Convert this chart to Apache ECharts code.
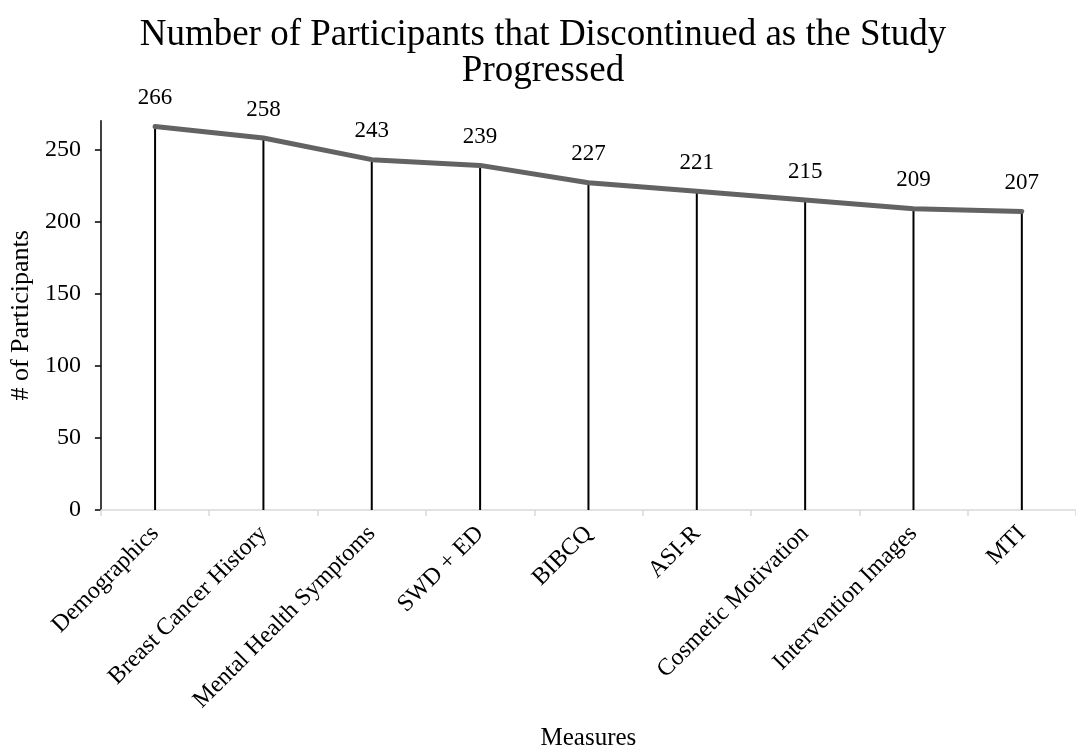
<!DOCTYPE html>
<html>
<head>
<meta charset="utf-8">
<script src="https://cdn.jsdelivr.net/npm/echarts@6/dist/echarts.min.js"></script>
<style>html,body{margin:0;padding:0;background:#fff}#c{width:1076px;height:756px}</style>
</head>
<body>
<div id="c"></div>
<script>
const categories = ['Demographics','Breast Cancer History','Mental Health Symptoms','SWD + ED','BIBCQ','ASI-R','Cosmetic Motivation','Intervention Images','MTI'];
const participants = [266, 258, 243, 239, 227, 221, 215, 209, 207];
const yTicks = [0, 50, 100, 150, 200, 250];

const F = 'Liberation Serif, Times New Roman, serif';
const chart = echarts.init(document.getElementById('c'), null, {renderer:'canvas'});
chart.setOption({
  animation: false,
  backgroundColor: '#fff',
  title: {
    text: 'Number of Participants that Discontinued as the Study\nProgressed',
    left: 538, top: 12, textAlign: 'center',
    textStyle: {fontFamily: F, fontSize: 37, fontWeight: 'normal', color: '#000', lineHeight: 36}
  },
  grid: {left: 100, top: 120.7, width: 978.75, height: 390, containLabel: false},
  xAxis: {
    type: 'category', data: categories, boundaryGap: true,
    name: 'Measures', nameLocation: 'middle', nameGap: 216,
    nameTextStyle: {fontFamily: F, fontSize: 25, color: '#000'},
    axisLine: {lineStyle: {color: '#d9d9d9', width: 1.5}},
    axisTick: {show: true, length: 6, lineStyle: {color: '#d9d9d9', width: 1.5}},
    axisLabel: {rotate: 45, margin: 20, fontFamily: F, fontSize: 24, color: '#000', interval: 0}
  },
  yAxis: {
    type: 'value', min: 0, max: 270, interval: 50,
    name: '# of Participants', nameLocation: 'middle', nameGap: 64, nameRotate: 90,
    nameTextStyle: {fontFamily: F, fontSize: 26, color: '#000'},
    axisLine: {show: true, lineStyle: {color: '#000', width: 1.5}},
    axisTick: {show: true, length: 6, lineStyle: {color: '#000', width: 1.5}, customValues: yTicks},
    axisLabel: {margin: 20, fontFamily: F, fontSize: 24, color: '#000', customValues: yTicks},
    splitLine: {show: false}
  },
  series: [
    {
      type: 'bar', data: participants, barWidth: 2,
      itemStyle: {color: '#000'}, silent: true, z: 1
    },
    {
      type: 'line', data: participants, symbol: 'circle', symbolSize: 2, showSymbol: true,
      itemStyle: {color: '#636363'},
      lineStyle: {color: '#636363', width: 5, cap: 'round', join: 'round'},
      label: {show: true, position: 'top', distance: 16, fontFamily: F, fontSize: 23, color: '#000'},
      z: 3
    }
  ]
});
</script>
</body>
</html>
